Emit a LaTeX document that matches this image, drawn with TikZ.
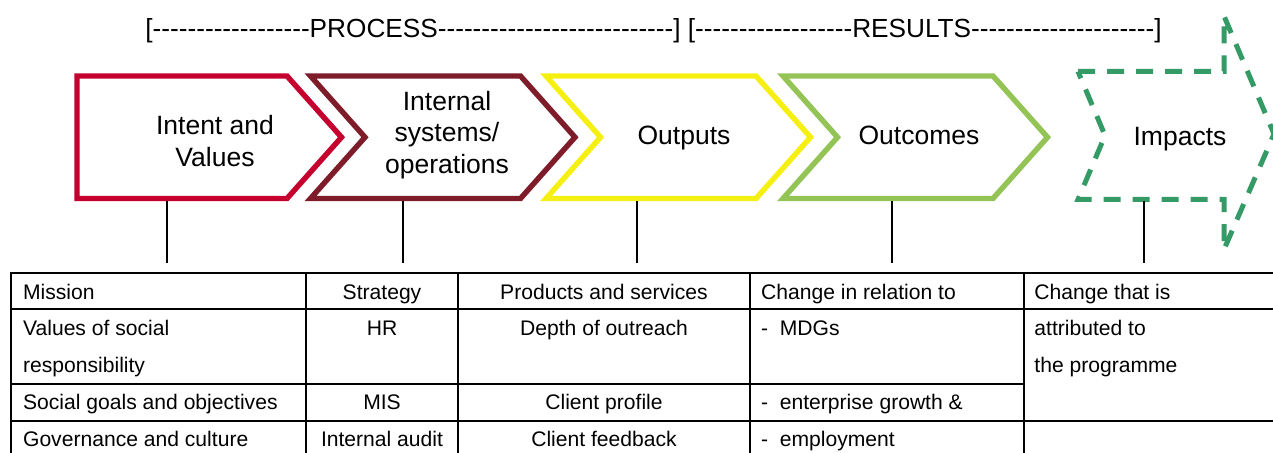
\documentclass[tikz,border=0pt]{standalone}
\usepackage{fontspec}
\setmainfont{Liberation Sans}
\usetikzlibrary{calc}

\definecolor{intentred}{HTML}{C6002E}
\definecolor{sysred}{HTML}{7E1C2A}
\definecolor{outyellow}{HTML}{F6EF12}
\definecolor{outgreen}{HTML}{94C356}
\definecolor{impgreen}{HTML}{349A66}

\newcommand\hyphenrun[1]{\foreach \k in {1,...,#1}{\mbox{-}}}

\tikzset{
  chevron/.style={line width=2.7pt, line join=miter},
  impactline/.style={impgreen, line width=2.5pt, dash pattern=on 8.5pt off 6pt},
  boxlabel/.style={align=center, inner sep=0pt, font=\fontsize{13.25}{15.7}\selectfont},
  headtext/.style={inner sep=0pt, anchor=base west, font=\fontsize{13.1}{15}\selectfont},
  tabl/.style={inner sep=0pt, anchor=base west, font=\fontsize{10.55}{12}\selectfont},
  tabc/.style={tabl, anchor=base},
  gridline/.style={line width=1pt},
  stem/.style={line width=1.4pt},
}

\begin{document}
\begin{tikzpicture}[x=0.5pt,y=-0.5pt]
            \useasboundingbox (0,0) rectangle (1273,453);

            \node[headtext] (header) at (145,37.5)
              {[\hyphenrun{18}PROCESS\hyphenrun{27}] [\hyphenrun{18}RESULTS\hyphenrun{21}]};

            % chevrons
            \draw[chevron, intentred] (77,76) -- ++(210,0) -- ++(54.5,61.25)
              -- ++(-54.5,61.25) -- ++(-210,0) -- cycle;
            \foreach \l/\c in {310.5/sysred, 546/outyellow, 783/outgreen}
              \draw[chevron, \c] (\l,76) -- ++(210,0) -- ++(54.5,61.25) -- ++(-54.5,61.25)
                -- ++(-210,0) -- ++(54.5,-61.25) -- cycle;
            \draw[impactline] (1078,71.5) -- (1224,71.5) -- (1224,16) -- (1274,134)
              -- (1224,249.5) -- (1224,199.5) -- (1078,199.5) -- (1105,135.5) -- cycle;

            \node[boxlabel] (intent) at (215,141.2) {Intent and\\Values};
            \node[boxlabel] (systems) at (447,135) {Internal\\systems/\\operations};
            \node[boxlabel, anchor=base] (outputs) at (684,145) {Outputs};
            \node[boxlabel, anchor=base] (outcomes) at (919,145) {Outcomes};
            \node[boxlabel, anchor=base] (impacts) at (1180,145.5) {Impacts};

            % stems down to the table
            \foreach \n/\x in {intent/167, systems/403, outputs/637, outcomes/892, impacts/1144}{
              \coordinate (\n-top) at (\x,201);
              \coordinate (\n-end) at (\x,262.7);
              \draw[stem] (\n-top) -- (\n-end);
            }

            % table
            \draw[gridline] (10.7,272.7) -- (1273,272.7);
            \draw[gridline] (10.7,309.3) -- (1273,309.3);
            \draw[gridline] (10.7,384) -- (1023.5,384);
            \draw[gridline] (10.7,420.7) -- (1273,420.7);
            \foreach \x in {10.7, 306, 458, 749.5, 1023.5}
              \draw[gridline] (\x,272.2) -- (\x,453);

            \node[tabl] (mission) at (22.7,299.3) {Mission};
            \node[tabl] (values) at (22.7,336) {Values of social};
            \node[tabl] (respons) at (22.7,372.7) {responsibility};
            \node[tabl] (goals) at (22.7,410) {Social goals and objectives};
            \node[tabl] (govern) at (22.7,446.7) {Governance and culture};

            \node[tabc] (strategy) at (382,299.3) {Strategy};
            \node[tabc] (hr) at (382,336) {HR};
            \node[tabc] (mis) at (382,410) {MIS};
            \node[tabc] (audit) at (382,446.7) {Internal audit};

            \node[tabc] (products) at (604,299.3) {Products and services};
            \node[tabc] (depth) at (604,336) {Depth of outreach};
            \node[tabc] (profile) at (604,410) {Client profile};
            \node[tabc] (feedback) at (604,446.7) {Client feedback};

            \node[tabl] (change) at (760.7,299.3) {Change in relation to};
            \node[tabl] (mdgs) at (760.7,336) {-~~MDGs};
            \node[tabl] (growth) at (760.7,410) {-~~enterprise growth \&};
            \node[tabl] (employ) at (760.7,446.7) {-~~employment};

            \node[tabl] (attrib) at (1034,299.3) {Change that is};
            \node[tabl] (attrib2) at (1034,336) {attributed to};
            \node[tabl] (attrib3) at (1034,372.7) {the programme};

          \end{tikzpicture}
\end{document}
